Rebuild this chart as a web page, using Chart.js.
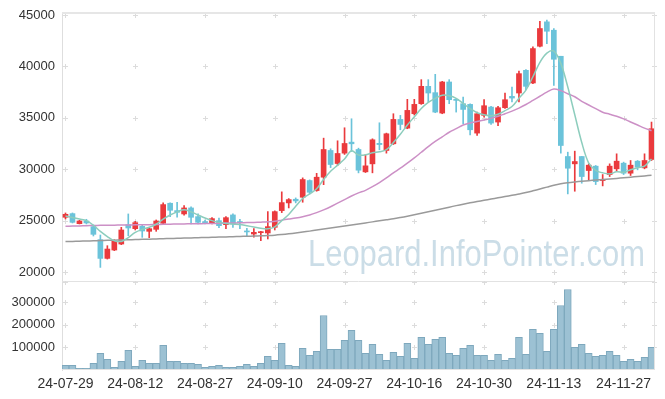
<!DOCTYPE html>
<html>
<head>
<meta charset="utf-8">
<script src="https://cdn.jsdelivr.net/npm/chart.js@4.4.1/dist/chart.umd.min.js"></script>
<style>
    html, body { margin: 0; padding: 0; background: #fff; }
    #wrap { position: relative; width: 665px; height: 399px; overflow: hidden; }
    .panel { position: absolute; left: 0; width: 665px; }
    #pricePanel { top: 0; height: 283px; }
    #volumePanel { top: 281px; height: 118px; }
</style>
</head>
<body>
<div id="wrap">
    <div class="panel" id="pricePanel"><canvas id="priceChart"></canvas></div>
    <div class="panel" id="volumePanel"><canvas id="volumeChart"></canvas></div>
</div>
<script>
// Trading days shown on the chart
const dates = [
    '24-07-29','24-07-30','24-07-31','24-08-01','24-08-02','24-08-05','24-08-06','24-08-07','24-08-08','24-08-09',
    '24-08-12','24-08-13','24-08-14','24-08-16','24-08-19','24-08-20','24-08-21','24-08-22','24-08-23','24-08-26',
    '24-08-27','24-08-28','24-08-29','24-08-30','24-09-02','24-09-03','24-09-04','24-09-05','24-09-06','24-09-09',
    '24-09-10','24-09-11','24-09-12','24-09-13','24-09-19','24-09-20','24-09-23','24-09-24','24-09-25','24-09-26',
    '24-09-27','24-09-30','24-10-02','24-10-04','24-10-07','24-10-08','24-10-10','24-10-11','24-10-14','24-10-15',
    '24-10-16','24-10-17','24-10-18','24-10-21','24-10-22','24-10-23','24-10-24','24-10-25','24-10-28','24-10-29',
    '24-10-30','24-10-31','24-11-01','24-11-04','24-11-05','24-11-06','24-11-07','24-11-08','24-11-11','24-11-12',
    '24-11-13','24-11-14','24-11-15','24-11-18','24-11-19','24-11-20','24-11-21','24-11-22','24-11-25','24-11-26',
    '24-11-27','24-11-28','24-11-29','24-12-02','24-12-03'
];

const opens = [
    25325, 25682, 24707, 24967, 24415, 23147, 21327, 22140, 22725, 24610,
    24220, 24447, 23960, 24155, 24740, 26690, 25975, 25650, 26235, 25390,
    24902, 24740, 25000, 24610, 25555, 24870, 23930, 23700, 23830, 23800,
    24350, 25975, 26725, 27080, 27275, 28900, 27925, 29225, 31825, 30557,
    31565, 32637, 31922, 29745, 30525, 32520, 31825, 32475, 34847, 34000,
    35400, 36375, 38065, 37450, 35465, 38490, 36800, 36375, 36310, 33515,
    35240, 36050, 34590, 35985, 37090, 37415, 39625, 38390, 41965, 44340,
    43525, 40990, 31240, 30525, 31240, 29875, 30300, 28900, 29485, 30040,
    30590, 29615, 30785, 30135, 30950
];
const highs = [
    25747, 25747, 25032, 25130, 24577, 23602, 22562, 23147, 24350, 25650,
    24935, 24610, 24350, 25065, 26722, 26722, 26787, 26462, 26332, 25650,
    25065, 25292, 25260, 25390, 25650, 25130, 24250, 24220, 23960, 25880,
    25950, 27800, 27145, 27210, 29160, 28965, 29600, 33025, 31990, 32768,
    34035, 34912, 32050, 31435, 32960, 34520, 33515, 35400, 35240, 36800,
    36800, 38715, 38715, 39235, 38550, 38715, 36865, 37025, 36375, 35565,
    36765, 36115, 36115, 37415, 38000, 39560, 39690, 41900, 44400, 44500,
    43690, 40990, 31660, 31760, 31240, 30525, 30365, 29485, 30525, 31500,
    30690, 30850, 30850, 31500, 34590
];
const lows = [
    25162, 24772, 24675, 24675, 23505, 20450, 21262, 22075, 22660, 23537,
    24090, 23375, 23342, 23960, 24675, 25390, 25325, 25520, 24675, 24675,
    24675, 24675, 24317, 24220, 24350, 24220, 23530, 23400, 23050, 23215,
    24090, 25780, 26235, 26725, 26790, 27600, 27860, 28500, 30160, 30360,
    31440, 31725, 29645, 29680, 29650, 31890, 31565, 32410, 33840, 33940,
    35270, 36310, 36540, 35500, 35400, 36375, 35560, 34425, 33350, 33290,
    35075, 34360, 34230, 35920, 36540, 36540, 37740, 38325, 41900, 42225,
    38160, 31565, 27600, 27860, 28640, 28900, 28510, 28380, 29290, 29810,
    29485, 29390, 29940, 30040, 30850
];
const closes = [
    25617, 24837, 24967, 24772, 23667, 21327, 22237, 22985, 24090, 24285,
    24805, 23992, 24220, 24967, 26560, 26007, 25812, 26235, 25325, 24837,
    24740, 25195, 24510, 25290, 24675, 24815, 23900, 23860, 23880, 24415,
    25877, 26755, 27047, 26918, 29000, 27760, 29225, 31920, 30460, 31532,
    32507, 32475, 29907, 30330, 32865, 32400, 33450, 34847, 34360, 35725,
    36310, 38065, 37415, 35560, 38490, 36765, 36700, 35820, 33840, 35400,
    36180, 34490, 35985, 36765, 36925, 39300, 38065, 41740, 43690, 43425,
    40700, 32310, 30100, 30750, 29290, 30395, 28800, 28950, 30300, 30785,
    29615, 30395, 30200, 30850, 33940
];

// Moving average lines as drawn
const ma5 = [
    25450, 25300, 25150, 25000, 24550, 23950, 23450, 23050, 22980, 23350,
    23850, 24150, 24350, 24650, 25150, 25550, 25850, 26050, 25850, 25550,
    25250, 25000, 24830, 24720, 24660, 24620, 24500, 24380, 24250, 24200,
    24400, 25000, 25600, 26400, 27150, 27600, 28100, 29000, 29800, 30400,
    31000, 31800, 31380, 31400, 31600, 31700, 31900, 32600, 33400, 34300,
    35100, 35900, 36500, 36900, 37200, 37150, 36900, 36400, 35900, 35500,
    35300, 35200, 35350, 35700, 36100, 36900, 37700, 39000, 40400, 41300,
    41500, 40300, 38000, 35300, 32600, 30600, 29900, 29650, 29550, 29750,
    29700, 29950, 30150, 30300, 31000
];
const ma20 = [
    24450, 24470, 24490, 24510, 24530, 24540, 24550, 24560, 24570, 24580,
    24590, 24600, 24610, 24620, 24640, 24660, 24670, 24680, 24690, 24700,
    24710, 24720, 24740, 24760, 24770, 24790, 24810, 24830, 24850, 24880,
    24950, 25050, 25150, 25250, 25380, 25550, 25780, 26050, 26350, 26700,
    27050, 27400, 27700, 27950, 28300, 28700, 29150, 29650, 30100, 30600,
    31100, 31650, 32200, 32700, 33150, 33600, 33950, 34300, 34500, 34650,
    34800, 34950, 35150, 35400, 35650, 35950, 36300, 36700, 37100, 37500,
    37800, 37650, 37350, 37050, 36600, 36250, 35900, 35550, 35350, 35150,
    34900, 34600, 34300, 34000, 33750
];
const ma120 = [
    22960, 22980, 23000, 23020, 23040, 23060, 23080, 23100, 23120, 23140,
    23160, 23180, 23200, 23220, 23240, 23260, 23280, 23300, 23320, 23340,
    23360, 23380, 23400, 23420, 23440, 23460, 23480, 23500, 23520, 23550,
    23590, 23650, 23720, 23800, 23890, 23980, 24080, 24180, 24280, 24380,
    24480, 24580, 24680, 24780, 24880, 24980, 25080, 25180, 25300, 25430,
    25570, 25710, 25860, 26010, 26160, 26310, 26460, 26600, 26730, 26860,
    26980, 27100, 27220, 27340, 27460, 27590, 27730, 27900, 28080, 28260,
    28440, 28580, 28680, 28760, 28830, 28890, 28950, 29000, 29060, 29110,
    29170, 29230, 29290, 29350, 29420
];

const volumes = [
    20580, 20580, 7350, 7350, 29400, 73500, 47000, 11760, 38220, 86700,
    16170, 42630, 29400, 29400, 108780, 38220, 38220, 29400, 29400, 25000,
    11760, 16170, 20580, 11760, 11760, 16170, 25000, 16170, 29400, 60270,
    42630, 117600, 20580, 16170, 95550, 64680, 82320, 241080, 91140, 91140,
    130830, 174930, 130830, 73500, 113190, 69090, 42630, 77910, 60270, 117600,
    51450, 144060, 113190, 135240, 144060, 73500, 64680, 95550, 108780, 64680,
    64680, 42630, 69090, 42630, 51450, 144060, 69090, 179340, 161700, 82320,
    179340, 285180, 355740, 99960, 113190, 73500, 60270, 64680, 82320, 64680,
    38220, 47040, 38220, 55860, 99960
];

const priceTicks = [20000, 25000, 30000, 35000, 40000, 45000];
const volumeTicks = [100000, 200000, 300000];

const UP = '#ea3a3d';
const DOWN = '#6bc3da';
const AXIS_FONT = 'Liberation Sans';
const AXIS_WIDTH = 62;

const candleColors = opens.map((o, i) => closes[i] >= o ? UP : DOWN);

// Light frame and "+" marks at the grid crossings
const framePlugin = {
    id: 'frame',
    beforeDatasetsDraw(chart, args, opts) {
        const { ctx, chartArea: a, scales } = chart;
        ctx.save();

        if (opts.watermark) {
            const text = 'Leopard.InfoPointer.com';
            ctx.font = '37px "Liberation Sans Narrow", "Liberation Sans", sans-serif';
            ctx.fillStyle = 'rgba(186, 210, 223, 0.75)';
            ctx.textBaseline = 'alphabetic';
            const w = ctx.measureText(text).width;
            const left = 308, base = 266, target = 337;
            ctx.translate(left, base);
            ctx.scale(target / w, 1);
            ctx.fillText(text, 0, 0);
            ctx.setTransform(1, 0, 0, 1, 0, 0);
        }

        const xs = [];
        for (let i = 0; i < dates.length; i += 10) {
            xs.push(Math.round(scales.x.getPixelForValue(i)) + 0.5);
        }
        xs.push(Math.round(a.right) - 0.5);
        const ys = scales.y.ticks.map(t => Math.round(scales.y.getPixelForValue(t.value)) + 0.5);
        if (opts.topRow) ys.push(Math.round(a.top) + 0.5);

        ctx.strokeStyle = '#dcdcdc';
        ctx.lineWidth = 1;
        ctx.beginPath();
        ys.forEach(py => {
            xs.forEach(px => {
                ctx.moveTo(px - 2.5, py);
                ctx.lineTo(px + 2.5, py);
                ctx.moveTo(px, py - 2.5);
                ctx.lineTo(px, py + 2.5);
            });
        });
        ctx.stroke();
        ctx.restore();
    },
    afterDraw(chart, args, opts) {
        const { ctx, chartArea: a } = chart;
        ctx.save();
        ctx.strokeStyle = '#e2e2e2';
        ctx.lineWidth = 1;
        ctx.beginPath();
        // right edge
        ctx.moveTo(Math.round(a.right) - 0.5, a.top);
        ctx.lineTo(Math.round(a.right) - 0.5, a.bottom);
        // bottom edge
        ctx.moveTo(a.left, Math.round(a.bottom) - 0.5);
        ctx.lineTo(a.right, Math.round(a.bottom) - 0.5);
        ctx.stroke();
        if (opts.topBorder) {
            ctx.strokeStyle = '#e6e6e6';
            ctx.lineWidth = 2;
            ctx.beginPath();
            ctx.moveTo(a.left, Math.round(a.top));
            ctx.lineTo(a.right, Math.round(a.top));
            ctx.stroke();
        }
        ctx.restore();
    }
};

function yAxis(min, max, ticks) {
    return {
        position: 'left',
        min: min,
        max: max,
        afterBuildTicks: (scale) => {
            scale.ticks = ticks.map(v => ({ value: v }));
        },
        afterFit: (scale) => {
            // fixed axis width, and no extra room for the end labels
            scale.width = AXIS_WIDTH;
            scale.paddingTop = 0;
            scale.paddingBottom = 0;
        },
        grid: { display: false, drawTicks: false },
        border: { display: true, color: '#dedede' },
        ticks: {
            padding: 7,
            color: '#333',
            font: { family: AXIS_FONT, size: 13 },
            callback: (v) => String(v)
        }
    };
}

function maLine(data, color) {
    return {
        type: 'line',
        data: data,
        borderColor: color,
        borderWidth: 1.5,
        pointRadius: 0,
        tension: 0.35,
        fill: false
    };
}

const baseOptions = {
    responsive: true,
    maintainAspectRatio: false,
    animation: false,
    devicePixelRatio: 1
};

// Price panel: candles drawn as floating bars (wick + body)
new Chart(document.getElementById('priceChart'), {
    type: 'bar',
    data: {
        labels: dates,
        datasets: [
            maLine(ma5, '#8dcdbd'),
            maLine(ma20, '#cc90c6'),
            maLine(ma120, '#9a9a9a'),
            {
                data: opens.map((o, i) => [o, closes[i]]),
                backgroundColor: candleColors,
                barThickness: 5,
                minBarLength: 1,
                grouped: false
            },
            {
                data: lows.map((l, i) => [l, highs[i]]),
                backgroundColor: candleColors,
                barThickness: 1,
                grouped: false
            }
        ]
    },
    options: {
        ...baseOptions,
        layout: { padding: { top: 13, right: 10, bottom: 1, left: 0 } },
        scales: {
            x: { display: false, offset: true },
            y: yAxis(19030, 45200, priceTicks)
        },
        plugins: {
            legend: { display: false },
            tooltip: { enabled: false },
            frame: { watermark: true, topBorder: true }
        }
    },
    plugins: [framePlugin]
});

// Volume panel
new Chart(document.getElementById('volumeChart'), {
    type: 'bar',
    data: {
        labels: dates,
        datasets: [{
            data: volumes,
            backgroundColor: '#9cc1d3',
            borderColor: '#7ea8bd',
            borderWidth: 1,
            barPercentage: 1,
            categoryPercentage: 1
        }]
    },
    options: {
        ...baseOptions,
        layout: { padding: { top: 1, right: 10, bottom: 6, left: 0 } },
        scales: {
            x: {
                offset: true,
                grid: { display: false, drawTicks: false },
                border: { display: false },
                afterFit: (scale) => {
                    scale.height = 23;
                    scale.paddingLeft = 0;
                    scale.paddingRight = 0;
                },
                ticks: {
                    autoSkip: false,
                    maxRotation: 0,
                    minRotation: 0,
                    padding: 6,
                    color: '#333',
                    font: { family: AXIS_FONT, size: 14 },
                    callback: (v, i) => (i % 10 === 0 ? dates[i] : '')
                }
            },
            y: yAxis(0, 389000, volumeTicks)
        },
        plugins: {
            legend: { display: false },
            tooltip: { enabled: false },
            frame: { watermark: false, topBorder: false, topRow: true }
        }
    },
    plugins: [framePlugin]
});
</script>
</body>
</html>
